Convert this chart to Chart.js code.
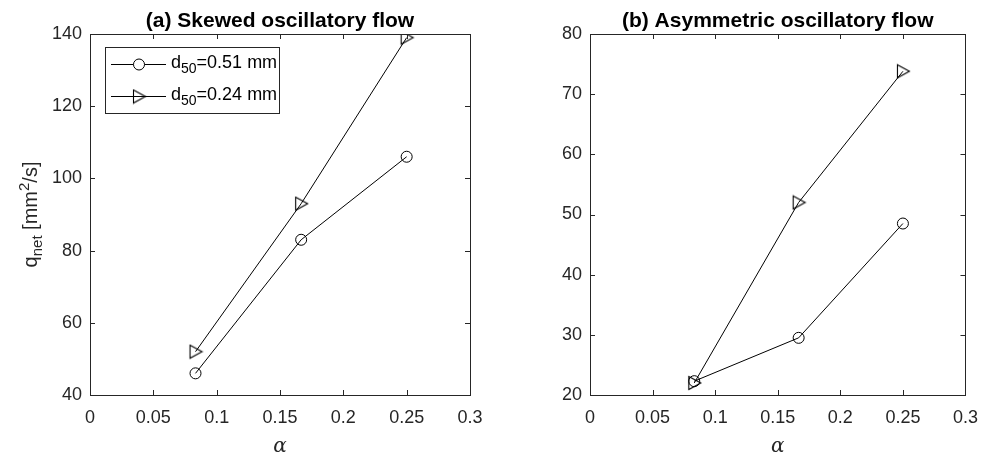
<!DOCTYPE html>
<html>
<head>
<meta charset="utf-8">
<script src="https://cdn.jsdelivr.net/npm/chart.js@4"></script>
<style>
  body { margin: 0; background: #fff; }
  #wrap { position: relative; width: 990px; height: 462px; }
  canvas { position: absolute; top: 0; }
</style>
</head>
<body>
<div id="wrap">
  <canvas id="chartA" width="495" height="462" style="left:0"></canvas>
  <canvas id="chartB" width="495" height="462" style="left:495px"></canvas>
</div>
<script>
// data
const alpha = [0.0833, 0.1667, 0.25];
const skewedD51 = [46, 83, 106];
const skewedD24 = [52, 93, 139];
const asymD51 = [22.3, 29.5, 48.5];
const asymD24 = [22, 52, 73.8];
const xTicks = [0, 0.05, 0.1, 0.15, 0.2, 0.25, 0.3];
const legendSizes = ['0.51', '0.24'];

const FONT = '"Liberation Sans", Arial, sans-serif';
const AXIS = '#262626';

// sharp right-pointing triangle marker
function triangleMarker() {
    const c = document.createElement('canvas');
    c.width = 16; c.height = 16;
    const g = c.getContext('2d');
    g.strokeStyle = '#000';
    g.lineWidth = 1.1;
    g.beginPath();
    g.moveTo(2.5, 1.5);
    g.lineTo(14.5, 8);
    g.lineTo(2.5, 14.5);
    g.closePath();
    g.stroke();
    return c;
}
const tri = triangleMarker();

function toPoints(xs, ys) {
    return xs.map((x, i) => ({ x: x, y: ys[i] }));
}

// text with sub/superscript pieces: [text, size, dy]
function drawRich(ctx, parts, x, y) {
    let cx = x;
    parts.forEach(p => {
        ctx.font = p[1] + 'px ' + FONT;
        ctx.fillText(p[0], cx, y + p[2]);
        cx += ctx.measureText(p[0]).width;
    });
    return cx - x;
}
function richWidth(ctx, parts) {
    let w = 0;
    parts.forEach(p => {
        ctx.font = p[1] + 'px ' + FONT;
        w += ctx.measureText(p[0]).width;
    });
    return w;
}

const framePlugin = {
    id: 'frame',
    afterDraw(chart, args, opts) {
        const ctx = chart.ctx;
        const a = chart.chartArea;
        const xs = chart.scales.x, ys = chart.scales.y;
        ctx.save();
        ctx.strokeStyle = AXIS;
        ctx.lineWidth = 1;
        ctx.strokeRect(Math.round(a.left) + 0.5, Math.round(a.top) + 0.5,
            Math.round(a.right - a.left), Math.round(a.bottom - a.top));
        ctx.beginPath();
        xs.ticks.forEach(t => {
            const px = Math.round(xs.getPixelForValue(t.value)) + 0.5;
            ctx.moveTo(px, a.bottom); ctx.lineTo(px, a.bottom - 5);
            ctx.moveTo(px, a.top); ctx.lineTo(px, a.top + 5);
        });
        ys.ticks.forEach(t => {
            const py = Math.round(ys.getPixelForValue(t.value)) + 0.5;
            ctx.moveTo(a.left, py); ctx.lineTo(a.left + 5, py);
            ctx.moveTo(a.right, py); ctx.lineTo(a.right - 5, py);
        });
        ctx.stroke();

        // title
        ctx.fillStyle = '#000';
        ctx.font = 'bold 21px ' + FONT;
        ctx.textAlign = 'center';
        ctx.textBaseline = 'alphabetic';
        ctx.fillText(opts.title, (a.left + a.right) / 2, 27);

        // x label
        ctx.font = 'italic 20px "DejaVu Serif", "Liberation Serif", serif';
        ctx.fillStyle = AXIS;
        ctx.fillText('\u03b1', (a.left + a.right) / 2, 452);

        // y label
        if (opts.yLabel) {
            const parts = [['q', 20, 0], ['net', 15, 5], [' [mm', 20, 0], ['2', 15, -8], ['/s]', 20, 0]];
            ctx.save();
            ctx.translate(37, (a.top + a.bottom) / 2);
            ctx.rotate(-Math.PI / 2);
            ctx.textAlign = 'left';
            const w = richWidth(ctx, parts);
            drawRich(ctx, parts, -w / 2, 0);
            ctx.restore();
        }

        // legend
        if (opts.legend) {
            ctx.fillStyle = '#fff';
            ctx.fillRect(105, 47, 174, 66);
            ctx.strokeStyle = AXIS;
            ctx.strokeRect(105.5, 47.5, 174, 66);
            ctx.textAlign = 'left';
            ctx.fillStyle = '#000';
            legendSizes.forEach((s, i) => {
                const ly = i === 0 ? 64 : 96;
                ctx.strokeStyle = '#000';
                ctx.beginPath();
                ctx.moveTo(111, ly + 0.5); ctx.lineTo(166, ly + 0.5);
                ctx.stroke();
                if (i === 0) {
                    ctx.beginPath();
                    ctx.arc(139, ly + 0.5, 5.5, 0, Math.PI * 2);
                    ctx.fillStyle = '#fff';
                    ctx.fill();
                    ctx.stroke();
                } else {
                    ctx.drawImage(tri, 139 - 8, ly - 7.5);
                }
                ctx.fillStyle = '#000';
                drawRich(ctx, [['d', 18, 0], ['50', 14, 5], ['=' + s + ' mm', 18, 0]], 171, ly + 4);
            });
        }
        ctx.restore();
    }
};

function makeChart(id, d51, d24, yMin, yMax, yStep, yWidth, padRight, opts) {
    return new Chart(document.getElementById(id), {
        type: 'scatter',
        data: {
            datasets: [{
                data: toPoints(alpha, d51),
                showLine: true,
                borderColor: '#000',
                borderWidth: 1,
                pointStyle: 'circle',
                pointRadius: 5.5,
                pointBorderWidth: 1,
                pointBackgroundColor: 'rgba(0,0,0,0)',
                pointBorderColor: '#000'
            }, {
                data: toPoints(alpha, d24),
                showLine: true,
                borderColor: '#000',
                borderWidth: 1,
                pointStyle: tri,
                pointRadius: 7
            }]
        },
        options: {
            responsive: false,
            devicePixelRatio: 1,
            animation: false,
            layout: { padding: { left: 0, right: padRight, top: 34, bottom: 0 } },
            plugins: {
                legend: { display: false },
                tooltip: { enabled: false },
                frame: opts
            },
            scales: {
                x: {
                    type: 'linear',
                    min: 0, max: 0.3,
                    afterBuildTicks: s => { s.ticks = xTicks.map(v => ({ value: v })); },
                    grid: { display: false, drawTicks: false },
                    border: { display: false },
                    ticks: {
                        color: AXIS, font: { family: FONT, size: 18 }, padding: 12,
                        maxRotation: 0, autoSkip: false,
                        callback: v => String(+v.toFixed(2))
                    },
                    afterFit: s => { s.height = 67; }
                },
                y: {
                    min: yMin, max: yMax,
                    grid: { display: false, drawTicks: false },
                    border: { display: false },
                    ticks: { stepSize: yStep, color: AXIS, font: { family: FONT, size: 18 }, padding: 8 },
                    afterFit: s => { s.width = yWidth; }
                }
            }
        },
        plugins: [framePlugin]
    });
}

makeChart('chartA', skewedD51, skewedD24, 40, 140, 20, 90, 25,
    { title: '(a) Skewed oscillatory flow', yLabel: true, legend: true });
makeChart('chartB', asymD51, asymD24, 20, 80, 10, 95, 18,
    { title: '(b) Asymmetric oscillatory flow', yLabel: false, legend: false });
</script>
</body>
</html>
